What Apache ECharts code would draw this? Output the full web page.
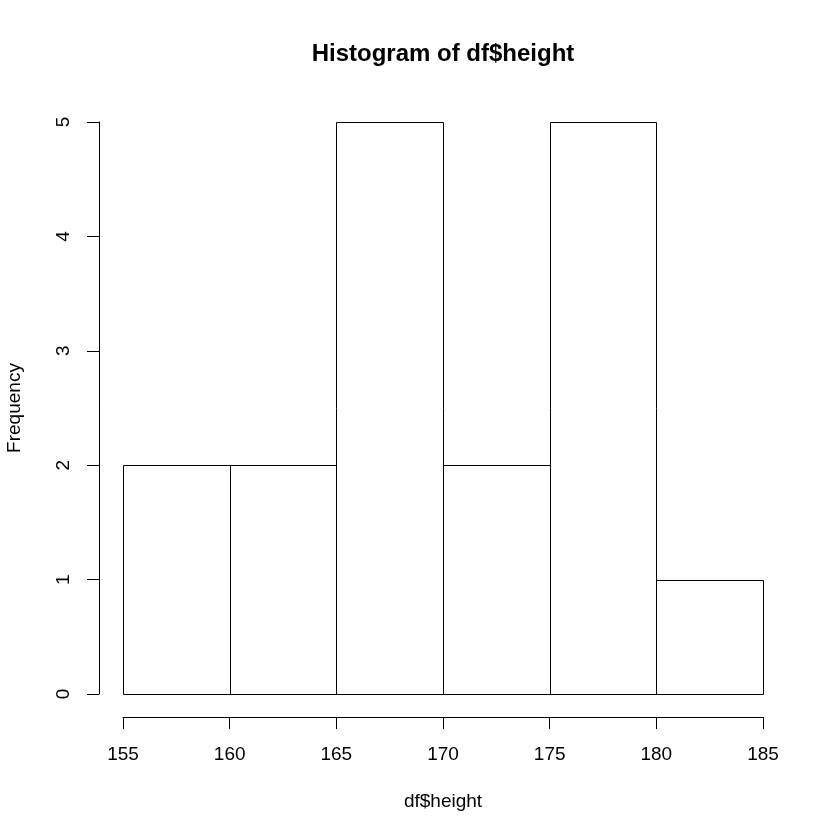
<!DOCTYPE html>
<html>
<head>
<meta charset="utf-8">
<script src="https://cdn.jsdelivr.net/npm/echarts@6/dist/echarts.min.js"></script>
<style>
  html, body { margin: 0; padding: 0; background: #fff; }
  #chart { width: 840px; height: 840px; }
</style>
</head>
<body>
<div id="chart"></div>
<script>
// histogram bins of df$height
const binStarts = [155, 160, 165, 170, 175, 180];
const binEnds = [160, 165, 170, 175, 180, 185];
const counts = [2, 2, 5, 2, 5, 1];
const yTicks = [0, 1, 2, 3, 4, 5];

const font = "'Liberation Sans', Arial, sans-serif";

const myChart = echarts.init(document.getElementById("chart"));

const barData = binStarts.map((s, i) => [s, binEnds[i], counts[i]]);

myChart.setOption({
  animation: false,
  backgroundColor: "#ffffff",
  title: {
    text: "Histogram of df$height",
    left: 438,
    top: 37,
    textAlign: "center",
    textStyle: {
      fontFamily: font,
      fontWeight: "bold",
      fontSize: 24,
      color: "#000",
    },
  },
  grid: {
    left: 123,
    right: 77,
    top: 122,
    bottom: 146,
    containLabel: false,
    outerBoundsMode: "none",
  },
  xAxis: {
    type: "value",
    min: 155,
    max: 185,
    interval: 5,
    offset: 23,
    name: "df$height",
    nameLocation: "middle",
    nameGap: 75,
    nameTextStyle: { fontFamily: font, fontSize: 19, color: "#000" },
    axisLine: { show: true, onZero: false, lineStyle: { color: "#000", width: 1 } },
    axisTick: { show: true, length: 12, lineStyle: { color: "#000" } },
    axisLabel: { fontFamily: font, fontSize: 19, color: "#000", margin: 28 },
    splitLine: { show: false },
  },
  yAxis: {
    type: "value",
    min: yTicks[0],
    max: yTicks[yTicks.length - 1],
    interval: 1,
    offset: 24,
    name: "Frequency",
    nameLocation: "middle",
    nameRotate: 90,
    nameGap: 75,
    nameTextStyle: { fontFamily: font, fontSize: 19, color: "#000" },
    axisLine: { show: true, onZero: false, lineStyle: { color: "#000", width: 1 } },
    axisTick: { show: true, length: 12, lineStyle: { color: "#000" } },
    axisLabel: { fontFamily: font, fontSize: 19, color: "#000", rotate: 90, margin: 26 },
    splitLine: { show: false },
  },
  series: [
    {
      type: "custom",
      data: barData,
      encode: { x: [0, 1], y: 2 },
      renderItem: function (params, api) {
        const p0 = api.coord([api.value(0), api.value(2)]);
        const p1 = api.coord([api.value(1), 0]);
        return {
          type: "rect",
          shape: {
            x: Math.round(p0[0]) + 0.5,
            y: Math.round(p0[1]) + 0.5,
            width: Math.round(p1[0]) - Math.round(p0[0]),
            height: Math.round(p1[1]) - Math.round(p0[1]),
          },
          style: { fill: "#fff", stroke: "#000", lineWidth: 1 },
        };
      },
    },
  ],
});
</script>
</body>
</html>
